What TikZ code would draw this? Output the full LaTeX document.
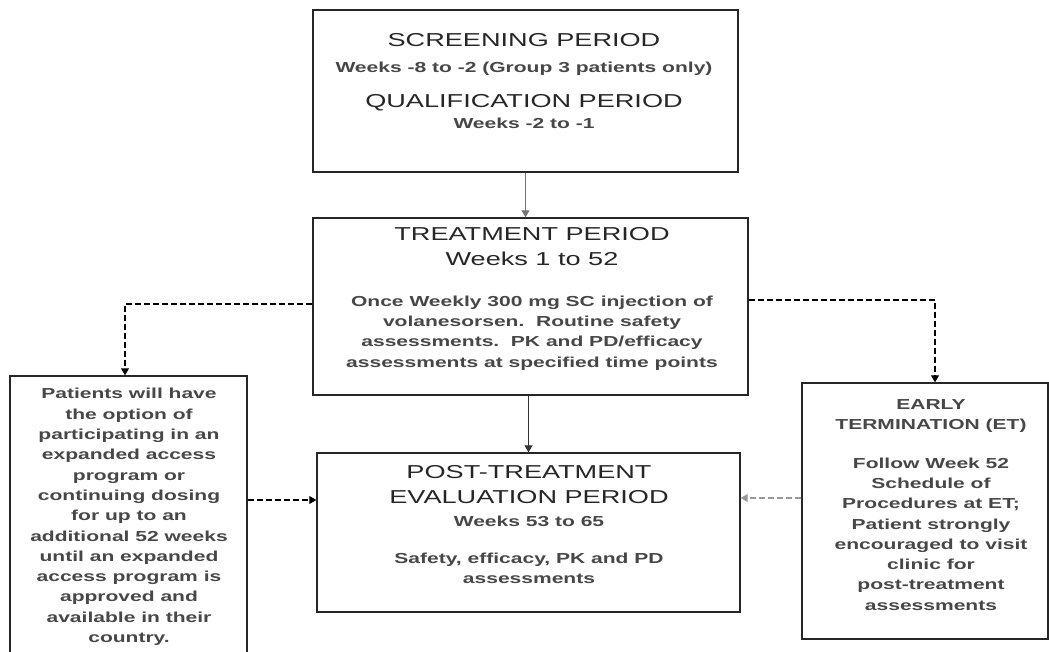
\documentclass[tikz,border=0pt]{standalone}
\usepackage{fontspec}
\setmainfont{Liberation Sans}[FakeStretch=1.45]
\usetikzlibrary{arrows.meta}
\begin{document}
\begin{tikzpicture}[x=1pt,y=-1pt,
  box/.style={draw=black!85,line width=1.4pt,inner sep=0pt},
  big/.style={font=\fontsize{18.7}{25}\selectfont,inner sep=0pt,align=center,text=black!85},
  small/.style={font=\bfseries\fontsize{14.5}{20.3}\selectfont,inner sep=0pt,align=center,text=black!72},
  conn/.style={line width=1.1pt,-{Triangle[width=8pt,length=7pt]}},
  dashconn/.style={conn,dash pattern=on 6pt off 3pt}]
\useasboundingbox (0,0) rectangle (1049,652);
\clip (0,0) rectangle (1049,652);
% boxes
\node[box,minimum width=425pt,minimum height=162pt] (top) at (525.5,91) {};
\node[box,minimum width=435pt,minimum height=177pt] (treat) at (530.5,306.5) {};
\node[box,minimum width=423pt,minimum height=159pt] (post) at (528.5,532.5) {};
\node[box,minimum width=237pt,minimum height=290pt] (left) at (128.5,521) {};
\node[box,minimum width=246pt,minimum height=256pt] (right) at (925,511) {};
% texts
\node[big] (t1) at (524,40) {SCREENING PERIOD};
\node[small] (t2) at (524,69) {Weeks -8 to -2 (Group 3 patients only)};
\node[big] (t3) at (524,103) {QUALIFICATION PERIOD};
\node[small] (t4) at (524,123) {Weeks -2 to -1};
\node[big] (r1) at (532,246.5) {TREATMENT PERIOD\\Weeks 1 to 52};
\node[small] (r2) at (532,333) {Once Weekly 300 mg SC injection of\\volanesorsen.\ \ Routine safety\\assessments.\ \ PK and PD/efficacy\\assessments at specified time points};
\node[big] (p1) at (529,484.5) {POST-TREATMENT\\EVALUATION PERIOD};
\node[small] (p2) at (529,521) {Weeks 53 to 65};
\node[small] (p3) at (529,568.5) {Safety, efficacy, PK and PD\\assessments};
\node[small] (l1) at (129,517) {Patients will have\\the option of\\participating in an\\expanded access\\program or\\continuing dosing\\for up to an\\additional 52 weeks\\until an expanded\\access program is\\approved and\\available in their\\country.};
\node[small] (e1) at (931,416) {EARLY\\TERMINATION (ET)};
\node[small] (e2) at (931,534) {Follow Week 52\\Schedule of\\Procedures at ET;\\Patient strongly\\encouraged to visit\\clinic for\\post-treatment\\assessments};
% connectors
\draw[conn,draw=black!55] (top.south) -- (top.south |- treat.north);
\draw[conn,draw=black!80] (treat.south -| post.north) -- (post.north);
\coordinate (lw) at ([yshift=2.5pt]treat.west);
\coordinate (ln) at ([xshift=-3.5pt]left.north);
\draw[dashconn] (lw) -| (ln);
\coordinate (pw) at ([yshift=32.5pt]post.west);
\draw[dashconn] (pw -| left.east) -- (pw);
\coordinate (re) at ([yshift=6.5pt]treat.east);
\coordinate (rn) at ([xshift=10pt]right.north);
\draw[dashconn] (re) -| (rn);
\coordinate (pe) at ([yshift=34.5pt]post.east);
\draw[dashconn,draw=black!40] (pe -| right.west) -- (pe);
\end{tikzpicture}
\end{document}
